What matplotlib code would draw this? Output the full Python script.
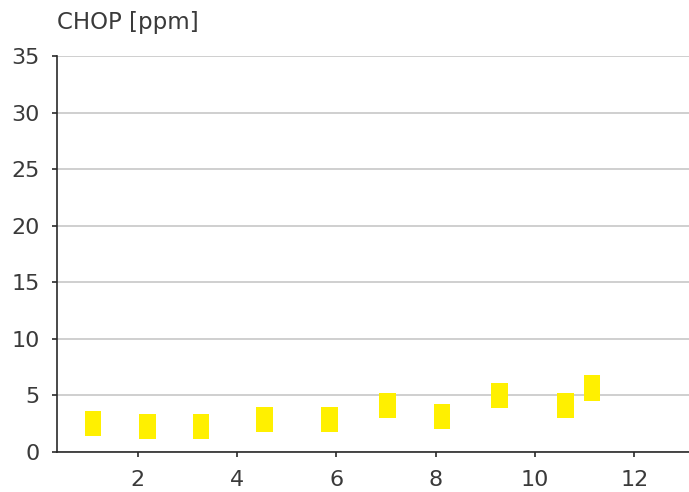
import matplotlib.pyplot as plt
import numpy as np

plt.rcParams['font.family'] = ['DejaVu Sans']

# sample positions and value ranges (low / high) in ppm
x_pos = [1.10, 2.19, 3.27, 4.55, 5.86, 7.03, 8.12, 9.28, 10.61, 11.15]
low = [1.42, 1.15, 1.15, 1.80, 1.80, 3.01, 2.04, 3.90, 3.01, 4.53]
high = [3.64, 3.37, 3.37, 3.99, 3.99, 5.23, 4.26, 6.12, 5.23, 6.77]

y_ticks = [0, 5, 10, 15, 20, 25, 30, 35]
x_ticks = [2, 4, 6, 8, 10, 12]

fig = plt.figure(figsize=(6.89, 4.92), dpi=100)
ax = fig.add_axes([0.0827, 0.0813, 0.9173, 0.8047])

low = np.array(low)
high = np.array(high)
ax.bar(x_pos, high - low, bottom=low, width=0.33, color='#fff000', zorder=3)

ax.set_xlim(0.37, 13.1)
ax.set_ylim(0, 35)
ax.set_yticks(y_ticks)
ax.set_xticks(x_ticks)
ax.yaxis.grid(True, color='#cccccc', linewidth=1.3)
ax.set_axisbelow(True)

for s in ['top', 'right']:
    ax.spines[s].set_visible(False)
for s in ['left', 'bottom']:
    ax.spines[s].set_color('#2a2a2a')
    ax.spines[s].set_linewidth(1.2)

ax.tick_params(axis='both', colors='#2a2a2a', labelcolor='#3a3a3a',
               labelsize=16, length=3.6, width=1.2)
ax.tick_params(axis='y', pad=9)
ax.tick_params(axis='x', pad=9)

fig.text(0.083, 0.955, 'CHOP [ppm]', fontsize=16.5, color='#3a3a3a', va='center', ha='left')

fig.savefig('out.png', dpi=100)
